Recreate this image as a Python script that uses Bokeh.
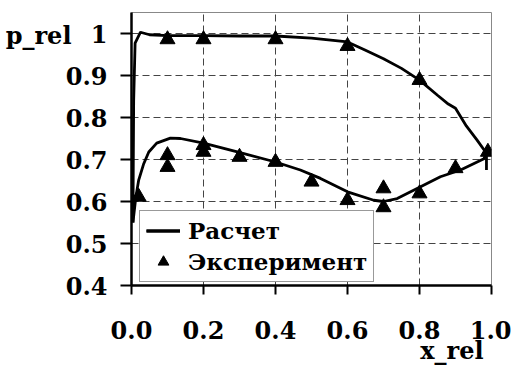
from bokeh.plotting import figure
from bokeh.models import Range1d, FixedTicker, LinearAxis
from bokeh.embed import file_html
from bokeh.resources import INLINE

# Calculated curve (Расчет): suction (upper) and pressure (lower) sides
calc_upper_x = [0.004, 0.005, 0.006, 0.010, 0.025, 0.05, 0.10, 0.20, 0.30, 0.40, 0.50,
                0.60, 0.65, 0.70, 0.75, 0.80, 0.85, 0.88, 0.90, 0.93, 0.96, 0.986, 0.986]
calc_upper_y = [0.55, 0.70, 0.84, 0.977, 1.003, 0.997, 0.995, 0.995, 0.994, 0.994, 0.989,
                0.980, 0.960, 0.940, 0.917, 0.889, 0.853, 0.832, 0.822, 0.780, 0.746, 0.715, 0.675]
calc_lower_x = [0.004, 0.012, 0.020, 0.034, 0.048, 0.070, 0.108, 0.136, 0.20, 0.294, 0.40,
                0.469, 0.525, 0.60, 0.673, 0.70, 0.738, 0.803, 0.858, 0.914, 0.979, 0.986]
calc_lower_y = [0.55, 0.61, 0.651, 0.690, 0.718, 0.739, 0.751, 0.750, 0.739, 0.718, 0.694,
                0.675, 0.655, 0.623, 0.603, 0.600, 0.607, 0.635, 0.659, 0.675, 0.702, 0.715]

# Experiment (Эксперимент)
exp_x = [0.10, 0.20, 0.40, 0.60, 0.80, 0.99,
         0.02, 0.10, 0.10, 0.20, 0.20, 0.30, 0.40, 0.50, 0.60, 0.70, 0.70, 0.80, 0.90]
exp_y = [0.986, 0.986, 0.986, 0.970, 0.889, 0.718,
         0.611, 0.710, 0.682, 0.734, 0.718, 0.706, 0.694, 0.647, 0.603, 0.631, 0.586, 0.619, 0.679]

x_ticks = [0.0, 0.2, 0.4, 0.6, 0.8, 1.0]
x_tick_labels = ["0.0", "0.2", "0.4", "0.6", "0.8", "1.0"]
y_ticks = [0.4, 0.5, 0.6, 0.7, 0.8, 0.9, 1.0]
y_tick_labels = ["0.4", "0.5", "0.6", "0.7", "0.8", "0.9", "1"]
x_title = "x_rel"
y_title = "p_rel"

FONT = "DejaVu Serif"

p = figure(width=511, height=372, output_backend="svg", toolbar_location=None,
           x_range=Range1d(0, 1), y_range=Range1d(0.4, 1.05),
           min_border_left=131, min_border_right=20, min_border_top=12, min_border_bottom=87)
p.background_fill_color = "white"
p.border_fill_color = "white"
p.outline_line_color = "#888888"
p.outline_line_width = 1

for ax, ticks, labels in ((p.xaxis[0], x_ticks, x_tick_labels), (p.yaxis[0], y_ticks, y_tick_labels)):
    ax.ticker = FixedTicker(ticks=ticks)
    ax.major_label_overrides = {t: l for t, l in zip(ticks, labels)}
    ax.major_label_text_font = FONT
    ax.major_label_text_font_style = "bold"
    ax.major_label_text_font_size = "24px"
    ax.major_label_text_color = "black"
    ax.axis_line_color = "black"
    ax.axis_line_width = 2.5
    ax.major_tick_line_color = "black"
    ax.major_tick_line_width = 2
    ax.major_tick_in = 0
    ax.minor_tick_line_color = None

p.xaxis.major_tick_out = 9
p.xaxis.major_label_standoff = 26
p.yaxis.major_tick_out = 11
p.yaxis.major_label_standoff = 13

# axis titles as extra axes carrying a single labelled tick
xt = LinearAxis(ticker=FixedTicker(ticks=[0.89]), major_label_overrides={0.89: x_title},
                axis_line_color=None, major_tick_line_color=None, minor_tick_line_color=None,
                major_tick_in=0, major_tick_out=0, major_label_standoff=-6,
                major_label_text_font=FONT, major_label_text_font_style="bold",
                major_label_text_font_size="24px", major_label_text_color="black")
p.add_layout(xt, "below")
yt = LinearAxis(ticker=FixedTicker(ticks=[0.995]), major_label_overrides={0.995: y_title},
                axis_line_color=None, major_tick_line_color=None, minor_tick_line_color=None,
                major_tick_in=0, major_tick_out=0, major_label_standoff=-9,
                major_label_text_font=FONT, major_label_text_font_style="bold",
                major_label_text_font_size="24px", major_label_text_color="black")
p.add_layout(yt, "left")

p.xgrid.ticker = FixedTicker(ticks=[0.2, 0.4, 0.6, 0.8])
p.ygrid.ticker = FixedTicker(ticks=[0.5, 0.6, 0.7, 0.8, 0.9, 1.0])
for g in (p.xgrid[0], p.ygrid[0]):
    g.grid_line_color = "#444444"
    g.grid_line_width = 1
    g.grid_line_dash = "7 4"

p.line(calc_upper_x, calc_upper_y, line_color="black", line_width=2.8, legend_label="Расчет")
p.line(calc_lower_x, calc_lower_y, line_color="black", line_width=2.8, legend_label="Расчет")
p.scatter(exp_x, exp_y, marker="triangle", size=15, fill_color="black", line_color="black",
          legend_label="Эксперимент")

lg = p.legend[0]
lg.location = (8, 3)
lg.label_text_font = FONT
lg.label_text_font_style = "bold"
lg.label_text_font_size = "23px"
lg.label_text_color = "black"
lg.border_line_color = "#333333"
lg.border_line_width = 1
lg.background_fill_color = "white"
lg.background_fill_alpha = 1
lg.padding = 6
lg.spacing = 4
lg.margin = 0
lg.glyph_width = 34
lg.glyph_height = 27
lg.label_height = 27
lg.label_standoff = 8

open("out.html", "w").write(file_html(p, INLINE))
